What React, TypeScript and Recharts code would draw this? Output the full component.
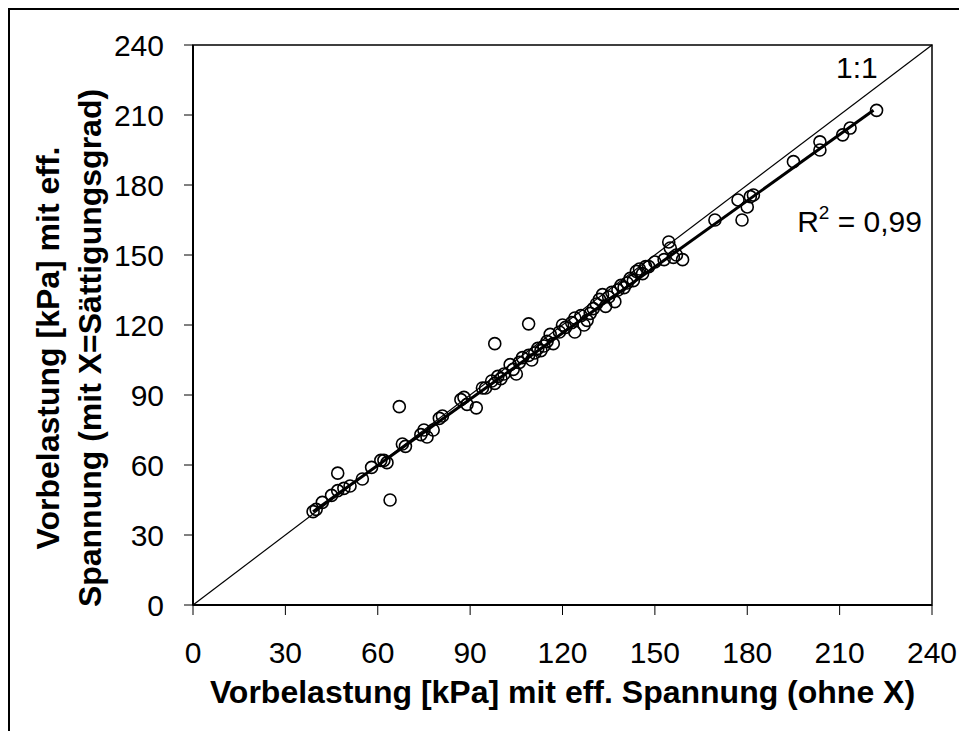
import React from 'react';
import {
    ComposedChart,
    Scatter,
    XAxis,
    YAxis,
    ReferenceLine,
    ReferenceArea,
    ReferenceDot
} from 'recharts';

// Vorbelastung ohne X (x) und mit X=Sättigungsgrad (y)
const ohneX = [
    39, 40, 42, 45, 47, 47, 49, 51, 55, 58, 61, 62, 63, 64, 67, 68, 69, 74, 75, 76,
    78, 80, 81, 87, 88, 89, 92, 94, 95, 97, 98, 98, 99, 100, 101, 103, 104, 105, 106, 107,
    109, 109, 110, 111, 112, 113, 114, 115, 116, 117, 119, 120, 121, 123, 124, 124, 126, 127, 128, 129,
    130, 131, 132, 133, 134, 135, 136, 137, 138, 139, 140, 141, 142, 143, 144, 145, 146, 147, 148, 150,
    153, 154.5, 155, 156, 157, 159, 169.5, 177, 178.3, 180, 181, 182, 195, 203.6, 203.6, 211, 213.4, 222
];
const mitX = [
    40, 41, 44, 47, 56.5, 49, 50, 51, 54, 59, 62, 62, 61, 45, 85, 69, 68, 73, 75, 72,
    75, 80, 81, 88, 89, 86, 84.5, 93, 93, 96, 95, 112, 98, 97, 99, 103, 101, 99, 104, 106,
    120.5, 107, 105, 108, 110, 109, 111, 113, 116, 112, 117, 120, 119, 121, 117, 123, 124, 120, 122, 125,
    127, 129, 131, 133, 128, 132, 134, 130, 135, 137, 136, 138, 140, 139, 143, 144, 142, 145, 145, 147,
    148, 155.6, 153, 149, 150, 148, 165, 173.6, 165, 170.6, 175, 175.7, 190, 198.5, 195, 201.5, 204.4, 212
];

const fitLine = [{ x: 39, y: 40 }, { x: 221, y: 212 }];
const oneToOne = [{ x: 0, y: 0 }, { x: 240, y: 240 }];

const axisTicks = [0, 30, 60, 90, 120, 150, 180, 210, 240];

const points = ohneX.map((x, i) => ({ x, y: mitX[i] }));

const FONT = '"Liberation Sans", Arial, Helvetica, sans-serif';

const OpenCircle = (props: any) => {
    const { cx, cy } = props;
    if (cx == null || cy == null) return null;
    return <circle cx={cx} cy={cy} r={6} fill="none" stroke="#000" strokeWidth={1.6} />;
};

export default function App() {
    return (
        <div style={{ position: 'relative', width: 959, height: 723, background: '#fff', fontFamily: FONT, overflow: 'hidden' }}>
            {/* outer frame, only top/left edges visible in the crop */}
            <div style={{
                position: 'absolute', left: 0, top: 0, right: 0, bottom: 0,
                borderTop: '2px solid #000', borderLeft: '2px solid #000', pointerEvents: 'none'
            }} />
            <ComposedChart
                width={959}
                height={723}
                margin={{ top: 37, right: 35, left: 65, bottom: 0 }}
                style={{ fontFamily: FONT }}
            >
                <XAxis
                    type="number"
                    dataKey="x"
                    domain={[0, 240]}
                    ticks={axisTicks}
                    interval={0}
                    height={126}
                    stroke="#000"
                    axisLine={{ stroke: '#000', strokeWidth: 2 }}
                    tickLine={{ stroke: '#000', strokeWidth: 1 }}
                    tickSize={10}
                    tickMargin={27}
                    tick={{ fill: '#000', fontSize: 30 }}
                    label={({ viewBox }: any) => (
                        <text
                            x={viewBox.x + viewBox.width / 2}
                            y={viewBox.y + 98}
                            textAnchor="middle"
                            fontSize={32}
                            fontWeight="bold"
                            fill="#000"
                        >
                            Vorbelastung [kPa] mit eff. Spannung (ohne X)
                        </text>
                    )}
                />
                <YAxis
                    type="number"
                    dataKey="y"
                    domain={[0, 240]}
                    ticks={axisTicks}
                    interval={0}
                    width={120}
                    stroke="#000"
                    axisLine={{ stroke: '#000', strokeWidth: 2 }}
                    tickLine={{ stroke: '#000', strokeWidth: 1 }}
                    tickSize={9}
                    tickMargin={20}
                    tick={{ fill: '#000', fontSize: 30 }}
                    label={({ viewBox }: any) => {
                        const cy = viewBox.y + viewBox.height / 2 + 23;
                        return (
                            <g fontSize={32} fontWeight="bold" fill="#000">
                                <text transform={`translate(51,${cy}) rotate(-90)`} textAnchor="middle">
                                    Vorbelastung [kPa] mit eff.
                                </text>
                                <text transform={`translate(93,${cy}) rotate(-90)`} textAnchor="middle">
                                    Spannung (mit X=Sättigungsgrad)
                                </text>
                            </g>
                        );
                    }}
                />
                <ReferenceArea x1={0} x2={240} y1={0} y2={240} fill="none" stroke="#000" strokeWidth={1.5} />
                <ReferenceLine segment={oneToOne} stroke="#000" strokeWidth={1.2} />
                <Scatter data={points} shape={OpenCircle} isAnimationActive={false} />
                <ReferenceLine segment={fitLine} stroke="#000" strokeWidth={3} />
                <ReferenceDot
                    x={215.6}
                    y={226}
                    r={0}
                    stroke="none"
                    label={({ viewBox }: any) => (
                        <text x={viewBox.x + viewBox.width / 2} y={viewBox.y + viewBox.height / 2} textAnchor="middle" fontSize={30} fill="#000">
                            1:1
                        </text>
                    )}
                />
                <ReferenceDot
                    x={196.2}
                    y={160}
                    r={0}
                    stroke="none"
                    label={({ viewBox }: any) => (
                        <text x={viewBox.x + viewBox.width / 2} y={viewBox.y + viewBox.height / 2} textAnchor="start" fontSize={30} fill="#000">
                            R<tspan dy={-13} fontSize={19}>2</tspan>
                            <tspan dy={13}> = 0,99</tspan>
                        </text>
                    )}
                />
            </ComposedChart>
        </div>
    );
}
